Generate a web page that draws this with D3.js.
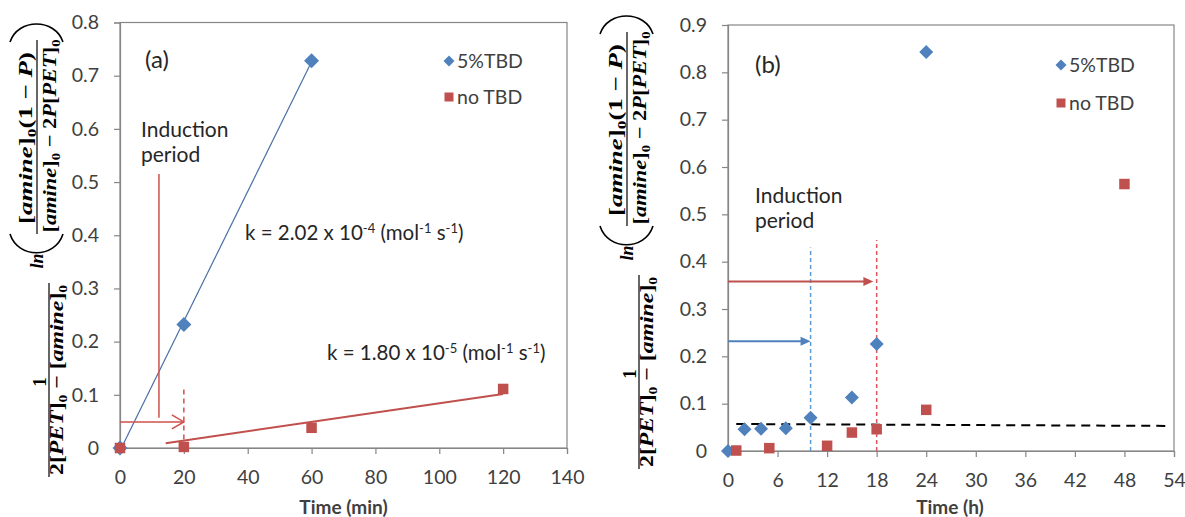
<!DOCTYPE html>
<html><head><meta charset="utf-8">
<script src="https://cdn.jsdelivr.net/npm/d3@7"></script>
<style>body{margin:0;background:#fff}</style>
</head><body>
<svg id="c" width="1185" height="517" xmlns="http://www.w3.org/2000/svg"></svg>
<script>
// ---------- data: panel (a) ----------
const aTime5 = [0, 20, 60];
const aVal5 = [0, 0.232, 0.728];
const aTimeNo = [0, 20, 60, 120];
const aValNo = [0, 0.002, 0.038, 0.111];
const aTrend5 = [[0, -0.005], [60, 0.726]];
const aTrendNo = [[14.3, 0.009], [120, 0.1015]];
const aXTicks = [0, 20, 40, 60, 80, 100, 120, 140];
const aYTicks = [0, 0.1, 0.2, 0.3, 0.4, 0.5, 0.6, 0.7, 0.8];
// ---------- data: panel (b) ----------
const bTime5 = [0, 2, 4, 7, 10, 15, 18, 24];
const bVal5 = [0, 0.046, 0.047, 0.048, 0.07, 0.113, 0.226, 0.843];
const bTimeNo = [1, 5, 12, 15, 18, 24, 48];
const bValNo = [0.001, 0.006, 0.011, 0.039, 0.046, 0.087, 0.564];
const bBaseline = [[1, 0.057], [53.5, 0.053]];
const bXTicks = [0, 6, 12, 18, 24, 30, 36, 42, 48, 54];
const bYTicks = [0, 0.1, 0.2, 0.3, 0.4, 0.5, 0.6, 0.7, 0.8, 0.9];
const seriesNames = ["5%TBD", "no TBD"];

const BLUE = "#4F81BD", RED = "#C0504D", GRAY = "#868686", TXT = "#404040";
const SANS = "Lato, 'Open Sans', sans-serif";
const SERIF = "'Liberation Serif', 'DejaVu Serif', serif";
const svg = d3.select("#c");
svg.append("rect").attr("width", 1185).attr("height", 517).attr("fill", "#fff");

const diamond = r => `M0,${-r}L${r},0L0,${r}L${-r},0Z`;
const square = s => `M${-s/2},${-s/2}h${s}v${s}h${-s}Z`;

function drawAxes(x, y, xt, yt, xTitle) {
  const [x0, x1] = x.range(), [y0, y1] = y.range();
  const g = svg.append("g");
  g.append("rect").attr("x", x0).attr("y", y1).attr("width", x1 - x0).attr("height", y0 - y1)
    .attr("fill", "none").attr("stroke", GRAY).attr("stroke-width", 1.2);
  const fmt = d => d === 0 ? "0" : d3.format(".1f")(d);
  const ya = g.append("g").attr("transform", `translate(${x0},0)`)
    .call(d3.axisLeft(y).tickValues(yt).tickSize(6).tickPadding(15).tickFormat(fmt));
  const xa = g.append("g").attr("transform", `translate(0,${y0})`)
    .call(d3.axisBottom(x).tickValues(xt).tickSize(6).tickPadding(16));
  [ya, xa].forEach(a => {
    a.selectAll("path,line").attr("stroke", GRAY).attr("stroke-width", 1.2);
    a.selectAll("text").attr("fill", TXT).style("font-family", SANS).style("font-size", "19.5px");
  });
  g.append("text").attr("x", (x0 + x1) / 2 + (xTitle.dx || 0)).attr("y", 514)
    .attr("text-anchor", "middle").attr("fill", TXT)
    .style("font-family", SANS).style("font-size", "19px").style("font-weight", "bold").text(xTitle.t);
}

function drawPoints(x, y, xs, vs, kind, size) {
  svg.append("g").selectAll("path").data(xs.map((t, i) => [t, vs[i]])).join("path")
    .attr("transform", d => `translate(${x(d[0])},${y(d[1])})`)
    .attr("d", kind === "d" ? diamond(size) : square(size))
    .attr("fill", kind === "d" ? BLUE : RED);
}

function legend(lx, ly, gap) {
  const g = svg.append("g").style("font-family", SANS).style("font-size", "19.5px").attr("fill", TXT);
  g.append("path").attr("transform", `translate(${lx},${ly})`).attr("d", diamond(5.5)).attr("fill", BLUE);
  g.append("path").attr("transform", `translate(${lx},${ly + gap})`).attr("d", square(9)).attr("fill", RED);
  g.append("text").attr("x", lx + 8).attr("y", ly + 6.5).text(seriesNames[0]);
  g.append("text").attr("x", lx + 8).attr("y", ly + gap + 6.5).text(seriesNames[1]);
}

function plainText(x, y, t, size) {
  svg.append("text").attr("x", x).attr("y", y).attr("fill", "#262626")
    .style("font-family", SANS).style("font-size", size + "px").text(t);
}

function kText(x, y, base, exp) {
  const t = svg.append("text").attr("x", x).attr("y", y).attr("fill", "#262626")
    .style("font-family", SANS).style("font-size", "20.5px");
  const parts = [["k = " + base + " x 10", 0], [exp, 1], [" (mol", 0], ["-1", 1], [" s", 0], ["-1", 1], [")", 0]];
  let up = false;
  parts.forEach(([s, sup]) => {
    const sp = t.append("tspan").text(s);
    if (sup) { sp.attr("dy", -7).style("font-size", "13px"); up = true; }
    else if (up) { sp.attr("dy", 7); up = false; }
  });
}

// math y-axis title, rotated
function mathLabel(ox, oy) {
  const g = svg.append("g").attr("transform", `translate(${ox},${oy}) rotate(-90)`)
    .style("font-family", SERIF).style("font-weight", "bold").attr("fill", "#000");
  function expr(Yc, Xb, parts, len, size) {
    const t = g.append("text").attr("x", -Yc).attr("y", Xb).attr("text-anchor", "middle")
      .style("font-size", size + "px");
    let down = false;
    parts.forEach(([s, k]) => {
      const sp = t.append("tspan").text(s);
      if (k === 1) sp.style("font-style", "italic");
      if (k === 2) { sp.attr("dy", 4).style("font-size", (size * 0.65) + "px"); down = true; }
      else if (down) { sp.attr("dy", -4); down = false; }
    });
    if (len) t.attr("textLength", len).attr("lengthAdjust", "spacingAndGlyphs");
  }
  const line = (Ya, Yb, X) => g.append("line").attr("x1", -Ya).attr("x2", -Yb).attr("y1", X).attr("y2", X)
    .attr("stroke", "#000").attr("stroke-width", 1.2);
  // outer fraction
  expr(382, 46, [["1", 0]], null, 19);
  line(477, 283, 49);
  expr(380, 63, [["2[", 0], ["PET", 1], ["]", 0], ["0", 2], [" − [", 0], ["amine", 1], ["]", 0], ["0", 2]], 190, 19);
  // ln
  expr(261, 43, [["ln", 1]], null, 18);
  // inner fraction
  expr(138, 32, [["[", 0], ["amine", 1], ["]", 0], ["0", 2], ["(1 − ", 0], ["P", 1], [")", 0]], 172, 19);
  line(234, 40, 37);
  expr(136, 56, [["[", 0], ["amine", 1], ["]", 0], ["0", 2], [" − 2", 0], ["P", 1], ["[", 0], ["PET", 1], ["]", 0], ["0", 2]], 193, 19);
  // big parentheses (screen coords)
  const p = svg.append("g").attr("transform", `translate(${ox},${oy})`).attr("fill", "none").attr("stroke", "#000").attr("stroke-width", 1.6);
  p.append("path").attr("d", "M10,234 C18,259 55,259 63,234");
  p.append("path").attr("d", "M10,42 C18,18 55,18 63,42");
}

// ================= panel (a) =================
const xa = d3.scaleLinear([0, 140], [120, 567]);
const ya = d3.scaleLinear([0, 0.8], [448, 22.5]);
drawAxes(xa, ya, aXTicks, aYTicks, { t: "Time (min)", dx: 0 });
const lineGen = (x, y) => d3.line().x(d => x(d[0])).y(d => y(d[1]));
svg.append("path").datum(aTrend5).attr("d", lineGen(xa, ya)).attr("stroke", "#4A6FA5").attr("stroke-width", 1.2).attr("fill", "none");
svg.append("path").datum(aTrendNo).attr("d", lineGen(xa, ya)).attr("stroke", RED).attr("stroke-width", 2).attr("fill", "none");
// induction annotations (a)
const aRed = svg.append("g").attr("stroke", "#D0504D").attr("fill", "none").attr("stroke-width", 1.5);
aRed.append("line").attr("x1", xa(12.2)).attr("x2", xa(12.2)).attr("y1", ya(0.515)).attr("y2", ya(0.057));
aRed.append("line").attr("x1", xa(0)).attr("x2", xa(20)).attr("y1", ya(0.049)).attr("y2", ya(0.049));
aRed.append("path").attr("d", `M${xa(20) - 12},${ya(0.049) - 7}L${xa(20)},${ya(0.049)}L${xa(20) - 12},${ya(0.049) + 7}`);
aRed.append("line").attr("x1", xa(20)).attr("x2", xa(20)).attr("y1", ya(0.11)).attr("y2", ya(0)).attr("stroke-dasharray", "5,4");
drawPoints(xa, ya, aTime5, aVal5, "d", 7.5);
drawPoints(xa, ya, aTimeNo, aValNo, "s", 10.5);
legend(449, 61, 36);
plainText(145, 68, "(a)", 24);
plainText(141, 137, "Induction", 21);
plainText(141, 162, "period", 21);
kText(245, 240, "2.02", "-4");
kText(327, 360, "1.80", "-5");
mathLabel(0, 0);

// ================= panel (b) =================
const xb = d3.scaleLinear([0, 54], [728, 1174]);
const yb = d3.scaleLinear([0, 0.9], [451, 25]);
drawAxes(xb, yb, bXTicks, bYTicks, { t: "Time (h)", dx: -1 });
svg.append("line").attr("x1", xb(10)).attr("x2", xb(10)).attr("y1", yb(0)).attr("y2", yb(0.43))
  .attr("stroke", "#5B9BD5").attr("stroke-width", 1.5).attr("stroke-dasharray", "4,3");
svg.append("line").attr("x1", xb(18)).attr("x2", xb(18)).attr("y1", yb(0)).attr("y2", yb(0.446))
  .attr("stroke", "#E0555A").attr("stroke-width", 1.5).attr("stroke-dasharray", "4,3");
function arrow(t0, t1, v, col) {
  const xs = xb(t0), xe = xb(t1), yy = yb(v);
  svg.append("line").attr("x1", xs).attr("x2", xe - 9).attr("y1", yy).attr("y2", yy).attr("stroke", col).attr("stroke-width", 2);
  svg.append("path").attr("d", `M${xe},${yy}L${xe - 10},${yy - 4.5}L${xe - 10},${yy + 4.5}Z`).attr("fill", col);
}
arrow(0, 17.6, 0.358, RED);
arrow(0, 10, 0.232, BLUE);
svg.append("path").datum(bBaseline).attr("d", lineGen(xb, yb)).attr("stroke", "#000").attr("stroke-width", 2)
  .attr("stroke-dasharray", "9,6").attr("fill", "none");
drawPoints(xb, yb, bTime5, bVal5, "d", 7);
drawPoints(xb, yb, bTimeNo, bValNo, "s", 10.5);
legend(1061, 65, 38);
plainText(755, 73, "(b)", 24);
plainText(755, 203, "Induction", 21);
plainText(755, 228, "period", 21);
mathLabel(590, -8);
</script>
</body></html>
